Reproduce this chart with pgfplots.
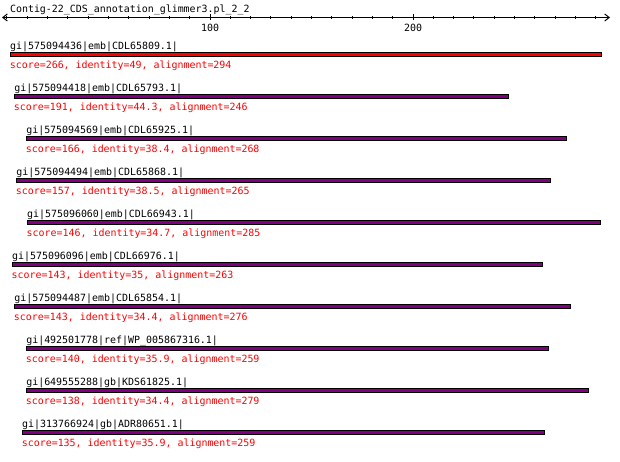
\documentclass[border=0pt]{standalone}
\usepackage{pgfplots}
\pgfplotsset{compat=1.18}
\usepackage{fontspec}
\setmonofont{DejaVu Sans Mono}
\usetikzlibrary{arrows.meta}
\definecolor{hitred}{RGB}{255,0,0}
\definecolor{hitpurple}{RGB}{128,0,128}
\newcommand{\mono}{\ttfamily\fontsize{9.95}{12}\selectfont}
\tikzset{
    hit/.style={draw=black, line width=1pt, mark=none},
    lab/.style={anchor=base west, inner sep=0pt, font=\mono},
    sc/.style={anchor=base west, inner sep=0pt, font=\mono, text=hitred},
}

\begin{document}
\begin{tikzpicture}
\useasboundingbox (0,0) rectangle (620pt,461pt);
% hits: one bar per row, y = pixel row from the top
\begin{axis}[
    at={(0,0)}, anchor=south west,
    scale only axis, width=620pt, height=461pt,
    xmin=-3.448, xmax=301.97,
    ymin=0, ymax=461, y dir=reverse,
    hide axis, clip=false,
]
    \node[lab] at (axis cs:1.4,12) {Contig-22\_CDS\_annotation\_glimmer3.pl\_2\_2};

    \addplot[hit, fill=hitred] coordinates {(1.7,52.8)(293.0,52.8)(293.0,56.2)(1.7,56.2)} --cycle;
    \node[lab] at (axis cs:1.5,49) {gi|575094436|emb|CDL65809.1|};
    \node[sc] at (axis cs:1.3,68) {score=266, identity=49, alignment=294};

    \addplot[hit, fill=hitpurple] coordinates {(3.7,94.8)(247.2,94.8)(247.2,98.2)(3.7,98.2)} --cycle;
    \node[lab] at (axis cs:3.5,91) {gi|575094418|emb|CDL65793.1|};
    \node[sc] at (axis cs:3.3,110) {score=191, identity=44.3, alignment=246};

    \addplot[hit, fill=hitpurple] coordinates {(9.6,136.8)(275.5,136.8)(275.5,140.2)(9.6,140.2)} --cycle;
    \node[lab] at (axis cs:9.4,133) {gi|575094569|emb|CDL65925.1|};
    \node[sc] at (axis cs:9.2,152) {score=166, identity=38.4, alignment=268};

    \addplot[hit, fill=hitpurple] coordinates {(4.7,178.8)(267.6,178.8)(267.6,182.2)(4.7,182.2)} --cycle;
    \node[lab] at (axis cs:4.5,175) {gi|575094494|emb|CDL65868.1|};
    \node[sc] at (axis cs:4.3,194) {score=157, identity=38.5, alignment=265};

    \addplot[hit, fill=hitpurple] coordinates {(10.0,220.8)(292.2,220.8)(292.2,224.2)(10.0,224.2)} --cycle;
    \node[lab] at (axis cs:9.8,217) {gi|575096060|emb|CDL66943.1|};
    \node[sc] at (axis cs:9.6,236) {score=146, identity=34.7, alignment=285};

    \addplot[hit, fill=hitpurple] coordinates {(2.6,262.8)(263.6,262.8)(263.6,266.2)(2.6,266.2)} --cycle;
    \node[lab] at (axis cs:2.4,259) {gi|575096096|emb|CDL66976.1|};
    \node[sc] at (axis cs:2.2,278) {score=143, identity=35, alignment=263};

    \addplot[hit, fill=hitpurple] coordinates {(3.7,304.8)(277.4,304.8)(277.4,308.2)(3.7,308.2)} --cycle;
    \node[lab] at (axis cs:3.5,301) {gi|575094487|emb|CDL65854.1|};
    \node[sc] at (axis cs:3.3,320) {score=143, identity=34.4, alignment=276};

    \addplot[hit, fill=hitpurple] coordinates {(9.6,346.8)(266.6,346.8)(266.6,350.2)(9.6,350.2)} --cycle;
    \node[lab] at (axis cs:9.4,343) {gi|492501778|ref|WP\_005867316.1|};
    \node[sc] at (axis cs:9.2,362) {score=140, identity=35.9, alignment=259};

    \addplot[hit, fill=hitpurple] coordinates {(9.6,388.8)(286.3,388.8)(286.3,392.2)(9.6,392.2)} --cycle;
    \node[lab] at (axis cs:9.4,385) {gi|649555288|gb|KDS61825.1|};
    \node[sc] at (axis cs:9.2,404) {score=138, identity=34.4, alignment=279};

    \addplot[hit, fill=hitpurple] coordinates {(7.6,430.8)(264.6,430.8)(264.6,434.2)(7.6,434.2)} --cycle;
    \node[lab] at (axis cs:7.4,427) {gi|313766924|gb|ADR80651.1|};
    \node[sc] at (axis cs:7.2,446) {score=135, identity=35.9, alignment=259};
\end{axis}

% ruler along the query
\begin{axis}[
    at={(2pt,443.5pt)}, anchor=south west,
    scale only axis, width=608pt, height=2pt,
    xmin=-2.463, xmax=297.04, ymin=0, ymax=1,
    axis x line=bottom, axis y line=none,
    x axis line style={line width=1pt,
        {Straight Barb[length=4.5pt,width=7pt]}-{Straight Barb[length=4.5pt,width=7pt]}},
    xtick={100,200}, xticklabels={100,200},
    minor xtick={0,10,...,290},
    tick align=center,
    major tick length=6pt, minor tick length=3.5pt,
    every tick/.style={black, line width=1pt},
    xticklabel style={font=\mono, anchor=north, inner sep=0pt, yshift=-3pt},
]
\end{axis}
\end{tikzpicture}
\end{document}
